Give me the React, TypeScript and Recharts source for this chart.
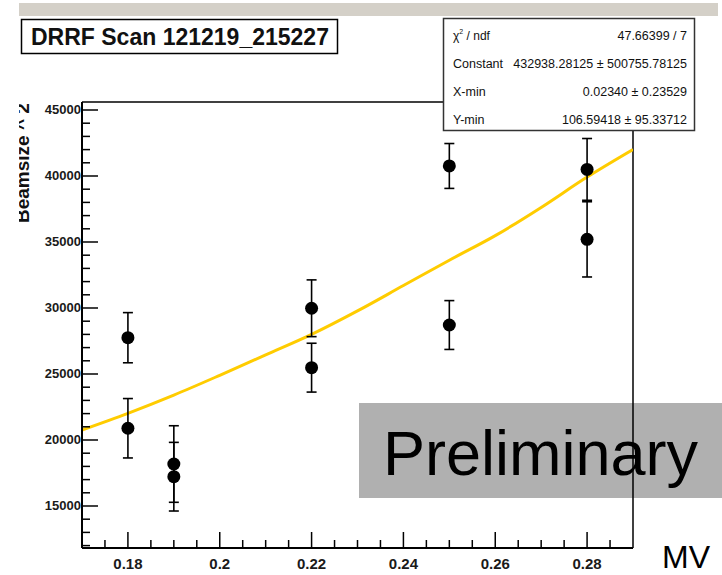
import React from 'react'
import { ComposedChart, XAxis, YAxis, Line, Scatter, ErrorBar, ReferenceLine } from 'recharts'

const beamX = [0.18, 0.18, 0.19, 0.19, 0.22, 0.22, 0.25, 0.25, 0.28, 0.28]
const beamY = [27750, 20890, 18180, 17220, 29980, 25480, 40760, 28710, 40500, 35200]
const beamErr = [1900, 2250, 2900, 2600, 2150, 1850, 1700, 1850, 2340, 2850]

const fitX = [0.17, 0.18, 0.19, 0.2, 0.21, 0.22, 0.23, 0.24, 0.25, 0.26, 0.27, 0.28, 0.29]
const fitY = [20760, 22020, 23400, 24900, 26450, 28000, 29780, 31700, 33620, 35480, 37620, 39920, 42010]

const xDomain = [0.17, 0.29]
const yDomain = [11818, 45606]
const xMajorTicks = [0.18, 0.2, 0.22, 0.24, 0.26, 0.28]
const yMajorTicks = [15000, 20000, 25000, 30000, 35000, 40000, 45000]

const statNames = ['Constant', 'X-min', 'Y-min']
const statValues = ['47.66399 / 7', '432938.28125 ± 500755.78125', '0.02340 ± 0.23529', '106.59418 ± 95.33712']

const points = beamX.map((x, i) => ({ x, y: beamY[i], err: beamErr[i] }))
const fit = fitX.map((x, i) => ({ x, y: fitY[i] }))

// minor ticks every 0.005 on x and every 1000 on y
const xTicks: number[] = []
for (let i = 1; i < 24; i++) xTicks.push(Math.round((0.17 + i * 0.005) * 1000) / 1000)
const yTicks: number[] = []
for (let v = 12000; v <= 45000; v += 1000) yTicks.push(v)

const isMajorX = (v: number) => xMajorTicks.some((t) => Math.abs(t - v) < 1e-6)

const font = '"Liberation Sans", Arial, sans-serif'

function XTick(props: any) {
  const { x, y, payload } = props
  const major = isMajorX(payload.value)
  return (
    <g>
      <line x1={x} y1={y} x2={x} y2={y - (major ? 16 : 8)} stroke="#000" strokeWidth={1.5} />
      {major && (
        <text x={x} y={y + 21} textAnchor="middle" fontFamily={font} fontWeight="bold" fontSize={15} fill="#1a1a1a">
          {String(Number(payload.value.toFixed(3)))}
        </text>
      )}
    </g>
  )
}

function YTick(props: any) {
  const { x, y, payload } = props
  const major = yMajorTicks.includes(payload.value)
  return (
    <g>
      <line x1={x} y1={y} x2={x + (major ? 16 : 8)} y2={y} stroke="#000" strokeWidth={1.5} />
      {major && (
        <text x={x - 1} y={y + 4.5} textAnchor="end" fontFamily={font} fontWeight="bold" fontSize={13} fill="#1a1a1a">
          {payload.value}
        </text>
      )}
    </g>
  )
}

export default function App() {
  return (
    <div style={{ position: 'relative', width: 722, height: 575, background: '#fff', fontFamily: font }}>
      <style>{'body{margin:0}'}</style>
      <svg width={722} height={575} style={{ position: 'absolute', left: 0, top: 0 }}>
        <rect x={359} y={403} width={363} height={95} fill="#b0b0b0" />
        <text x={383} y={475} fontFamily={font} fontSize={63} fill="#000">Preliminary</text>
      </svg>
      <ComposedChart width={722} height={575} margin={{ top: 102, right: 89, bottom: 0, left: 22 }}>
        <XAxis
          type="number"
          dataKey="x"
          domain={xDomain}
          allowDataOverflow
          ticks={xTicks}
          interval={0}
          height={27}
          tickSize={0}
          tickMargin={0}
          tickLine={false}
          axisLine={{ stroke: '#000', strokeWidth: 2 }}
          tick={<XTick />}
        />
        <YAxis
          type="number"
          dataKey="y"
          domain={yDomain}
          allowDataOverflow
          ticks={yTicks}
          interval={0}
          width={60}
          tickSize={0}
          tickMargin={0}
          tickLine={false}
          axisLine={{ stroke: '#000', strokeWidth: 2 }}
          tick={<YTick />}
        />
        <ReferenceLine y={yDomain[1]} stroke="#000" strokeWidth={1.5} />
        <ReferenceLine x={xDomain[1]} stroke="#000" strokeWidth={1.5} />
        <Line data={fit} dataKey="y" type="monotone" stroke="#ffcc00" strokeWidth={3} dot={false} isAnimationActive={false} />
        <Scatter
          data={points}
          dataKey="y"
          fill="#000"
          isAnimationActive={false}
          shape={(p: any) => <circle cx={p.cx} cy={p.cy} r={6.5} fill="#000" />}
        >
          <ErrorBar dataKey="err" direction="y" width={5} stroke="#000" strokeWidth={1.6} />
        </Scatter>
      </ComposedChart>
      <svg width={722} height={575} style={{ position: 'absolute', left: 0, top: 0, pointerEvents: 'none' }}>
        <rect x={19} y={3} width={699} height={13} fill="#d4d0c8" />
        <rect x={21.5} y={19.5} width={316} height={34} fill="#fff" stroke="#000" strokeWidth={1.5} />
        <text x={31} y={45} fontFamily={font} fontWeight="bold" fontSize={23} fill="#111">DRRF Scan 121219_215227</text>
        <rect x={443.5} y={18.5} width={251} height={112} fill="#fff" stroke="#333" strokeWidth={1.5} />
        <text x={453} y={40} fontFamily={font} fontSize={12} fill="#111">
          χ<tspan dy={-6} fontSize={7}>2</tspan><tspan dy={6}> / ndf</tspan>
        </text>
        {statNames.map((n, i) => (
          <text key={n} x={453} y={68 + i * 28} fontFamily={font} fontSize={12.5} fill="#111">{n}</text>
        ))}
        {statValues.map((v, i) => (
          <text key={v} x={687} y={40 + i * 28} textAnchor="end" fontFamily={font} fontSize={12.5} fill="#111">{v}</text>
        ))}
        <defs>
          <clipPath id="ylab">
            <rect x={19} y={90} width={20} height={140} />
          </clipPath>
        </defs>
        <g clipPath="url(#ylab)">
          <text transform="translate(28.5,223) rotate(-90)" fontFamily={font} fontWeight="bold" fontSize={19} fill="#111">
            Beamsize ^ 2
          </text>
        </g>
        <text x={662} y={568} fontFamily={font} fontSize={32} fill="#000">MV</text>
      </svg>
    </div>
  )
}
